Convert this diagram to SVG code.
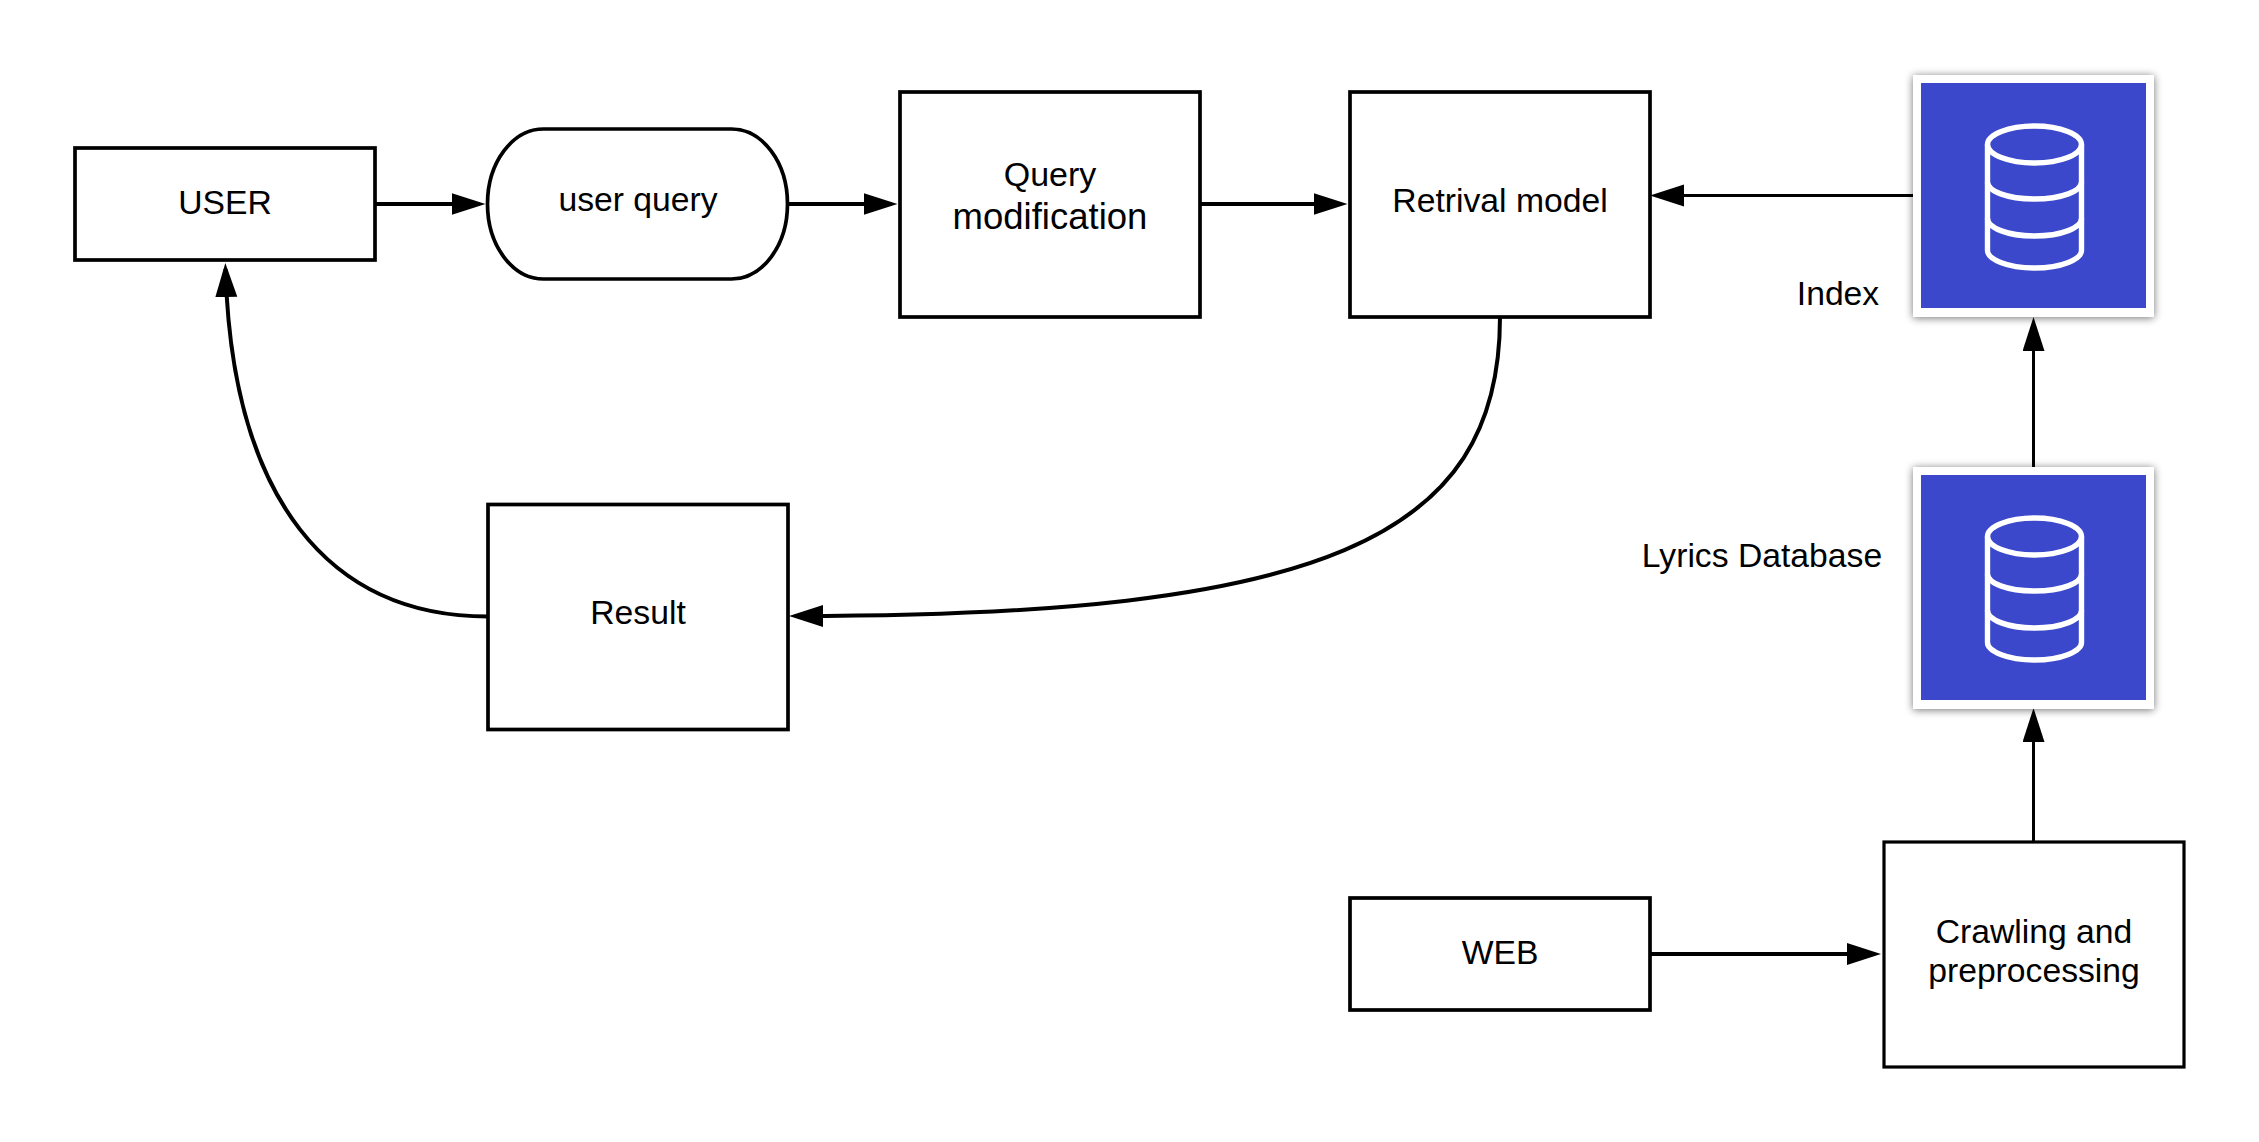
<svg xmlns="http://www.w3.org/2000/svg" width="2259" height="1142" viewBox="0 0 2259 1142">
<style>
.box{fill:#fff;stroke:#000;stroke-width:3.7}
.thin{stroke-width:3.2}
.t{font-family:"Liberation Sans",Arial,sans-serif;font-size:33.7px;fill:#000;text-anchor:middle}
.c{fill:none;stroke:#000;stroke-width:4}
.c3{stroke-width:3}
.panel{fill:#fff;filter:url(#sh)}
.blue{fill:#3b48cc}
.cyl{fill:none;stroke:#fff;stroke-width:5.400}
</style>
<defs>
<filter id="sh" x="-15%" y="-15%" width="130%" height="130%"><feGaussianBlur in="SourceAlpha" stdDeviation="4"/><feOffset dx="0" dy="1"/><feComponentTransfer><feFuncA type="linear" slope="0.55"/></feComponentTransfer><feMerge><feMergeNode/><feMergeNode in="SourceGraphic"/></feMerge></filter>
<marker id="a" markerUnits="userSpaceOnUse" markerWidth="36" markerHeight="24" refX="28" refY="11" orient="auto"><path d="M0 0L34 11L0 22Z" fill="#000"/></marker>
<g id="cyl"><rect class="panel" width="241" height="242"/><rect class="blue" x="8" y="8" width="225" height="225"/><g class="cyl"><ellipse cx="121.5" cy="69.5" rx="47" ry="18.5"/><path d="M74.500 69.500V175.500C74.500 184 94 193 121.500 193S168.500 184 168.500 175.500V69.500"/><path d="M74.500 107C74.500 116 94 124 121.500 124S168.500 116 168.500 107"/><path d="M74.500 143.500C74.500 152.500 94 161 121.500 161S168.500 152.500 168.500 143.500"/></g></g>
</defs>
<g id="connectors">
<path class="c" marker-end="url(#a)" d="M375 204H479.500"/>
<path class="c" marker-end="url(#a)" d="M788 204H891.500"/>
<path class="c" marker-end="url(#a)" d="M1200 204H1341.500"/>
<path class="c c3" marker-end="url(#a)" d="M1913 195.500H1656"/>
<path class="c c3" marker-end="url(#a)" d="M2033.500 467V323"/>
<path class="c c3" marker-end="url(#a)" d="M2033.500 842V714"/>
<path class="c" marker-end="url(#a)" d="M1650 954H1875"/>
<path class="c" marker-end="url(#a)" d="M1500 317C1500 540 1320 616 795 616"/>
<path class="c" marker-end="url(#a)" d="M488 616.500C330 616.500 232 500 225.500 269"/>
</g>
<g id="user"><rect class="box" x="75" y="148" width="300" height="112"/><text class="t" x="225" y="214">USER</text></g>
<g id="userquery"><rect class="box" x="487.500" y="129" width="300" height="150" rx="56" ry="75"/><text class="t" x="638" y="210.500">user query</text></g>
<g id="querymod"><rect class="box" x="900" y="92" width="300" height="225"/><text class="t" x="1050" y="185.500" style="font-size:34px">Query</text><text class="t" x="1050" y="229" style="font-size:36.500px">modification</text></g>
<g id="retrival"><rect class="box" x="1350" y="92" width="300" height="225"/><text class="t" x="1500" y="212">Retrival model</text></g>
<g id="result"><rect class="box" x="488" y="504.500" width="300" height="225"/><text class="t" x="638" y="623.500">Result</text></g>
<g id="web"><rect class="box" x="1350" y="898" width="300" height="112"/><text class="t" x="1500" y="964">WEB</text></g>
<g id="crawl"><rect class="box thin" x="1884" y="842" width="300" height="225"/><text class="t" x="2034" y="943">Crawling and</text><text class="t" x="2034" y="982">preprocessing</text></g>
<g id="index"><use href="#cyl" x="1913" y="75"/><text class="t" x="1838" y="304.500">Index</text></g>
<g id="lyrics"><use href="#cyl" x="1913" y="467"/><text class="t" x="1762" y="567">Lyrics Database</text></g>
</svg>
